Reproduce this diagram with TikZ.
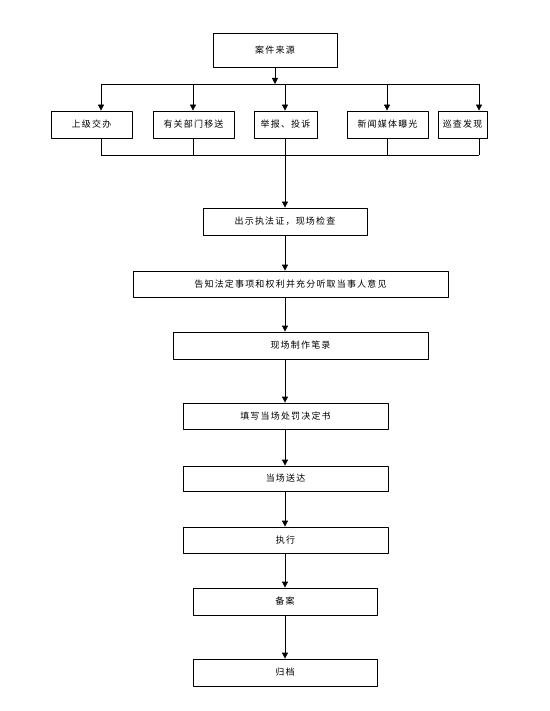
\documentclass[tikz,border=0pt]{standalone}
\usepackage{fontspec}
\setmainfont{Noto Sans CJK SC}
\usetikzlibrary{arrows.meta}
\begin{document}
\begin{tikzpicture}[x=1pt,y=-1pt,line join=round,>={Triangle[width=6pt,length=6pt]},line width=0.8pt]
    \tikzset{box/.style={draw,inner sep=0pt,minimum height=27pt,font=\fontsize{9}{11}\selectfont\addfontfeature{LetterSpace=13}}}
    \useasboundingbox (0,0) rectangle (549,711);
    % top
    \node[box,minimum width=124pt,minimum height=34pt] (src) at (275,50) {案件来源};
    \node[box,minimum width=81pt] (sj) at (91.5,124.5) {上级交办};
    \node[box,minimum width=81pt] (bm) at (193.5,124.5) {有关部门移送};
    \node[box,minimum width=63pt] (jb) at (285.5,124.5) {举报、投诉};
    \node[box,minimum width=81pt] (xw) at (387.5,124.5) {新闻媒体曝光};
    \node[box,minimum width=49pt] (xc) at (462.5,124.5) {巡查发现};
    \coordinate (bt) at (0,84);
    \coordinate (bb) at (0,155);
    \coordinate (sp) at (285,0);
    \draw[->] (src.south) -- (src.south |- bt);
    \foreach \n/\x in {sj/101,bm/193,jb/285,xw/387,xc/479}{
        \coordinate (t\n) at (\x,84);
        \draw[->] (t\n) -- (t\n |- \n.north);
        \draw (t\n |- \n.south) -- (t\n |- bb);
    }
    \draw (tsj) -- (txc);
    \draw (tsj |- bb) -- (txc |- bb);
    % procedure
    \node[box,minimum width=164pt] (chk) at (285,221.5) {出示执法证，现场检查};
    \node[box,minimum width=315pt,minimum height=26pt] (tell) at (290.5,284) {告知法定事项和权利并充分听取当事人意见};
    \node[box,minimum width=255pt] (rec) at (300.5,345.5) {现场制作笔录};
    \node[box,minimum width=205pt,minimum height=26pt] (fill) at (285.5,416) {填写当场处罚决定书};
    \node[box,minimum width=205pt,minimum height=25pt] (serve) at (285.5,478.5) {当场送达};
    \node[box,minimum width=205pt,minimum height=26pt] (exec) at (285.5,540) {执行};
    \node[box,minimum width=184pt] (file) at (285,601.5) {备案};
    \node[box,minimum width=184pt] (arch) at (285,672.5) {归档};
    \draw[->] (sp |- bb) -- (sp |- chk.north);
    \foreach \a/\b in {chk/tell,tell/rec,rec/fill,fill/serve,serve/exec,exec/file,file/arch}
    \draw[->] (sp |- \a.south) -- (sp |- \b.north);
\end{tikzpicture}
\end{document}
